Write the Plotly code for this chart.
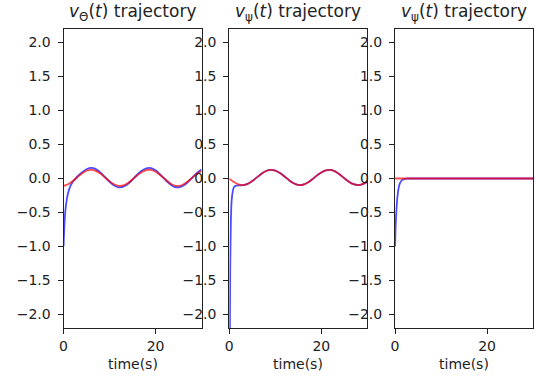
import plotly.graph_objects as go

# ---- data -------------------------------------------------------------
t_ref = list(range(31))

# v_theta: measured (blue) and reference (red)
t_meas1 = [0, 0.2, 0.4, 0.7, 1.0, 1.5, 2.0, 2.5] + list(range(3, 31))
meas1 = [-1.00, -0.66, -0.47, -0.31, -0.21, -0.11, -0.05, -0.01,
         0.030, 0.090, 0.136, 0.155, 0.138, 0.090, 0.022, -0.050, -0.103,
         -0.129, -0.121, -0.080, -0.016, 0.055, 0.115, 0.150, 0.152, 0.120,
         0.062, -0.008, -0.073, -0.120, -0.131, -0.107, -0.055, 0.014, 0.083,
         0.134]
ref1 = [-0.107, -0.084, -0.038, 0.019, 0.075, 0.114, 0.128, 0.113, 0.073,
        0.017, -0.040, -0.085, -0.107, -0.100, -0.066, -0.012, 0.046, 0.095,
        0.124, 0.126, 0.099, 0.051, -0.007, -0.061, -0.099, -0.108, -0.088,
        -0.045, 0.012, 0.069, 0.111]

# v_psi (second panel)
t_meas2 = [0, 0.1, 0.2, 0.35, 0.5, 0.75, 1.0, 1.5, 2.0, 2.5] + list(range(3, 31))
meas2 = [-6.0, -2.8, -1.3, -0.6, -0.33, -0.19, -0.13, -0.105, -0.10, -0.10,
         -0.098, -0.079, -0.038, 0.016, 0.070, 0.110, 0.127, 0.116, 0.081,
         0.030, -0.025, -0.071, -0.095, -0.092, -0.063, -0.014, 0.042, 0.089,
         0.120, 0.126, 0.104, 0.059, 0.004, -0.047, -0.084, -0.097, -0.082,
         -0.050]
ref2 = [-0.002, -0.053, -0.087, -0.097, -0.079, -0.038, 0.016, 0.070, 0.110,
        0.127, 0.116, 0.081, 0.030, -0.025, -0.071, -0.095, -0.092, -0.063,
        -0.014, 0.042, 0.089, 0.120, 0.126, 0.104, 0.059, 0.004, -0.047,
        -0.084, -0.097, -0.082, -0.050]

# v_psi (third panel)
t_meas3 = [0, 0.1, 0.25, 0.5, 0.75, 1.0, 1.5, 2.0, 2.5, 3, 30]
meas3 = [-1.00, -0.75, -0.52, -0.28, -0.15, -0.08, -0.025, -0.008, -0.002, 0.0, 0.0]
t_ref3 = [0, 30]
ref3 = [0.0, 0.0]

titles = ["<i>v</i><sub>Θ</sub>(<i>t</i>) trajectory",
          "<i>v</i><sub>ψ</sub>(<i>t</i>) trajectory",
          "<i>v</i><sub>ψ</sub>(<i>t</i>) trajectory"]
x_label = "time(s)"
x_ticks = [0, 20]
y_ticks = [-2.0, -1.5, -1.0, -0.5, 0.0, 0.5, 1.0, 1.5, 2.0]
y_ticktext = ["−2.0", "−1.5", "−1.0", "−0.5", "0.0", "0.5", "1.0", "1.5", "2.0"]

# ---- figure -----------------------------------------------------------
W, H = 536, 377
FONT = "DejaVu Sans"
BLUE = "rgb(0,0,255)"
RED = "rgb(255,0,0)"

panels = [
    (t_meas1, meas1, t_ref, ref1),
    (t_meas2, meas2, t_ref, ref2),
    (t_meas3, meas3, t_ref3, ref3),
]
x_px = [(60, 199), (227, 366), (394, 533)]
y_top, y_bot = 29, 328

fig = go.Figure()
annotations = []
for i, (tm, m, tr, r) in enumerate(panels):
    k = "" if i == 0 else str(i + 1)
    xa, ya = "x" + k, "y" + k
    fig.add_trace(go.Scatter(x=tm, y=m, mode="lines", xaxis=xa, yaxis=ya,
                             line=dict(color=BLUE, width=1.8, shape="spline", smoothing=0.6),
                             opacity=0.7, showlegend=False))
    fig.add_trace(go.Scatter(x=tr, y=r, mode="lines", xaxis=xa, yaxis=ya,
                             line=dict(color=RED, width=1.8, shape="spline", smoothing=0.6),
                             opacity=0.7, showlegend=False))
    x0, x1 = x_px[i]
    dom_x = [x0 / W, x1 / W]
    dom_y = [1 - y_bot / H, 1 - y_top / H]
    common = dict(showline=True, mirror=True, linecolor="#222", linewidth=1.1,
                  ticks="outside", ticklen=5, tickwidth=1.1, tickcolor="#222",
                  showgrid=False, zeroline=False,
                  tickfont=dict(family=FONT, size=14, color="#222"))
    fig.update_layout(**{
        "xaxis" + k: dict(domain=dom_x, range=[0, 30], tickvals=x_ticks,
                          anchor=ya, ticklabelstandoff=0, **common),
        "yaxis" + k: dict(domain=dom_y, range=[-2.2, 2.2], tickvals=y_ticks,
                          ticktext=y_ticktext, anchor=xa, ticklabelstandoff=4,
                          **common),
    })
    cx = (x0 + x1) / 2 / W
    annotations.append(dict(text=titles[i], x=cx, y=1 - 26 / H, xref="paper", yref="paper",
                            xanchor="center", yanchor="bottom", showarrow=False,
                            font=dict(family=FONT, size=17, color="#222")))
    annotations.append(dict(text=x_label, x=cx, y=1 - 364 / H, xref="paper", yref="paper",
                            xanchor="center", yanchor="middle", showarrow=False,
                            font=dict(family=FONT, size=14, color="#222")))

fig.update_layout(width=W, height=H, margin=dict(l=0, r=0, t=0, b=0),
                  paper_bgcolor="white", plot_bgcolor="white",
                  annotations=annotations)
fig.write_html("out.html")
